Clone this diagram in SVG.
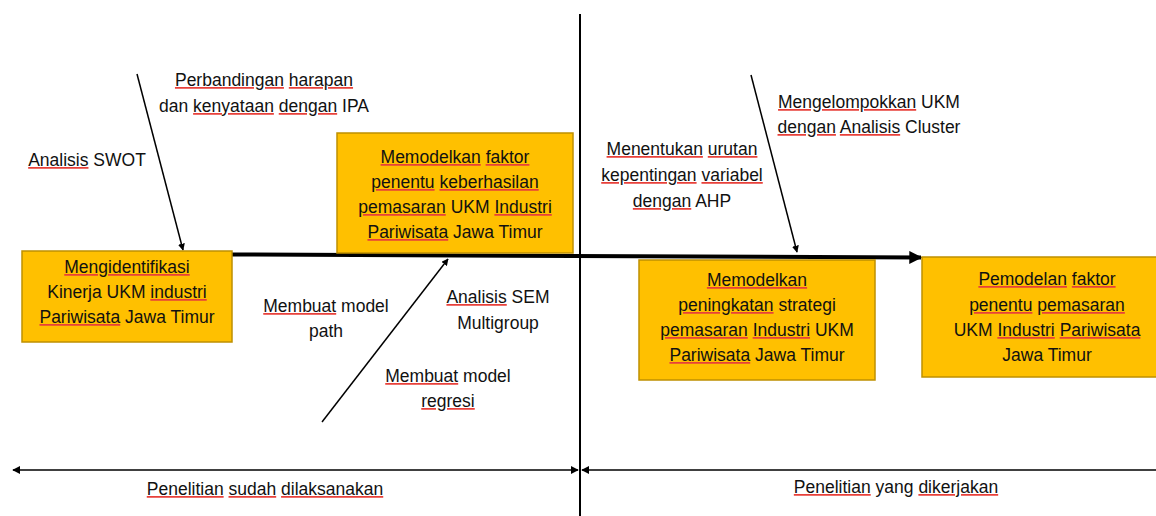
<svg xmlns="http://www.w3.org/2000/svg" width="1156" height="516" viewBox="0 0 1156 516">
<defs>
<style>
text{font-family:"Liberation Sans",Arial,sans-serif;font-size:17.5px;fill:#111;text-anchor:middle}
.box{fill:#FFC000;stroke:#BF9000;stroke-width:1.5}
.thin{stroke:#000;stroke-width:1.5;fill:none}
.sp{text-decoration:underline;text-decoration-thickness:1px;fill:#e8403a}
.sp tspan{fill:#111}
</style>
<marker id="ah" viewBox="0 0 10 10" refX="9" refY="5" markerWidth="7" markerHeight="7" markerUnits="userSpaceOnUse" orient="auto"><path d="M0,0 L10,5 L0,10 z" fill="#000"/></marker>
<marker id="ahBig" viewBox="0 0 10 10" refX="9" refY="5" markerWidth="14" markerHeight="13" markerUnits="userSpaceOnUse" orient="auto"><path d="M0,0 L10,5 L0,10 z" fill="#000"/></marker>
<marker id="ahS" viewBox="0 0 10 10" refX="9" refY="5" markerWidth="8" markerHeight="8" markerUnits="userSpaceOnUse" orient="auto-start-reverse"><path d="M0,0 L10,5 L0,10 z" fill="#000"/></marker>
</defs>
<rect width="1156" height="516" fill="#fff"/>

<g id="connectors">
<line x1="580" y1="14" x2="580" y2="516" stroke="#000" stroke-width="2"/>
<line x1="13" y1="470" x2="578" y2="470" class="thin" marker-start="url(#ahS)" marker-end="url(#ahS)"/>
<line x1="582" y1="470" x2="1156" y2="470" class="thin" marker-start="url(#ahS)"/>
<line x1="232" y1="254.5" x2="921" y2="257.5" stroke="#000" stroke-width="4" marker-end="url(#ahBig)"/>
<line x1="137" y1="74" x2="183" y2="250" class="thin" marker-end="url(#ah)"/>
<line x1="322" y1="422" x2="448" y2="259" class="thin" marker-end="url(#ah)"/>
<line x1="751" y1="75" x2="797" y2="252" class="thin" marker-end="url(#ah)"/>
</g>

<g id="box1">
<rect class="box" x="22" y="251" width="210" height="91"/>
<text x="127" y="273"><tspan class="sp"><tspan>Mengidentifikasi</tspan></tspan></text>
<text x="127" y="298">Kinerja UKM <tspan class="sp"><tspan>industri</tspan></tspan></text>
<text x="127" y="323"><tspan class="sp"><tspan>Pariwisata</tspan></tspan> Jawa Timur</text>
</g>

<g id="box2">
<rect class="box" x="337" y="133" width="236" height="120"/>
<text x="455" y="163"><tspan class="sp"><tspan>Memodelkan</tspan></tspan> <tspan class="sp"><tspan>faktor</tspan></tspan></text>
<text x="455" y="188"><tspan class="sp"><tspan>penentu</tspan></tspan> <tspan class="sp"><tspan>keberhasilan</tspan></tspan></text>
<text x="455" y="213"><tspan class="sp"><tspan>pemasaran</tspan></tspan> UKM <tspan class="sp"><tspan>Industri</tspan></tspan></text>
<text x="455" y="238"><tspan class="sp"><tspan>Pariwisata</tspan></tspan> Jawa Timur</text>
</g>

<g id="box3">
<rect class="box" x="639" y="260" width="236" height="120"/>
<text x="757" y="286"><tspan class="sp"><tspan>Memodelkan</tspan></tspan></text>
<text x="757" y="311"><tspan class="sp"><tspan>peningkatan</tspan></tspan> strategi</text>
<text x="757" y="336"><tspan class="sp"><tspan>pemasaran</tspan></tspan> <tspan class="sp"><tspan>Industri</tspan></tspan> UKM</text>
<text x="757" y="361"><tspan class="sp"><tspan>Pariwisata</tspan></tspan> Jawa Timur</text>
</g>

<g id="box4">
<rect class="box" x="922" y="257" width="240" height="120"/>
<text x="1047" y="285"><tspan class="sp"><tspan>Pemodelan</tspan></tspan> <tspan class="sp"><tspan>faktor</tspan></tspan></text>
<text x="1047" y="311"><tspan class="sp"><tspan>penentu</tspan></tspan> <tspan class="sp"><tspan>pemasaran</tspan></tspan></text>
<text x="1047" y="336">UKM <tspan class="sp"><tspan>Industri</tspan></tspan> <tspan class="sp"><tspan>Pariwisata</tspan></tspan></text>
<text x="1047" y="361">Jawa Timur</text>
</g>

<g id="label-ipa">
<text x="264" y="86"><tspan class="sp"><tspan>Perbandingan</tspan></tspan> <tspan class="sp"><tspan>harapan</tspan></tspan></text>
<text x="264" y="112">dan <tspan class="sp"><tspan>kenyataan</tspan></tspan> <tspan class="sp"><tspan>dengan</tspan></tspan> IPA</text>
</g>
<g id="label-swot">
<text x="87" y="166"><tspan class="sp"><tspan>Analisis</tspan></tspan> SWOT</text>
</g>
<g id="label-path">
<text x="326" y="312"><tspan class="sp"><tspan>Membuat</tspan></tspan> model</text>
<text x="326" y="337">path</text>
</g>
<g id="label-sem">
<text x="498" y="303"><tspan class="sp"><tspan>Analisis</tspan></tspan> SEM</text>
<text x="498" y="329">Multigroup</text>
</g>
<g id="label-regresi">
<text x="448" y="382"><tspan class="sp"><tspan>Membuat</tspan></tspan> model</text>
<text x="448" y="407"><tspan class="sp"><tspan>regresi</tspan></tspan></text>
</g>
<g id="label-cluster">
<text x="869" y="108"><tspan class="sp"><tspan>Mengelompokkan</tspan></tspan> UKM</text>
<text x="869" y="133"><tspan class="sp"><tspan>dengan</tspan></tspan> <tspan class="sp"><tspan>Analisis</tspan></tspan> Cluster</text>
</g>
<g id="label-ahp">
<text x="682" y="155"><tspan class="sp"><tspan>Menentukan</tspan></tspan> <tspan class="sp"><tspan>urutan</tspan></tspan></text>
<text x="682" y="181"><tspan class="sp"><tspan>kepentingan</tspan></tspan> <tspan class="sp"><tspan>variabel</tspan></tspan></text>
<text x="682" y="207"><tspan class="sp"><tspan>dengan</tspan></tspan> AHP</text>
</g>
<g id="label-done">
<text x="265" y="495"><tspan class="sp"><tspan>Penelitian</tspan></tspan> <tspan class="sp"><tspan>sudah</tspan></tspan> <tspan class="sp"><tspan>dilaksanakan</tspan></tspan></text>
</g>
<g id="label-doing">
<text x="896" y="493"><tspan class="sp"><tspan>Penelitian</tspan></tspan> yang <tspan class="sp"><tspan>dikerjakan</tspan></tspan></text>
</g>
</svg>
